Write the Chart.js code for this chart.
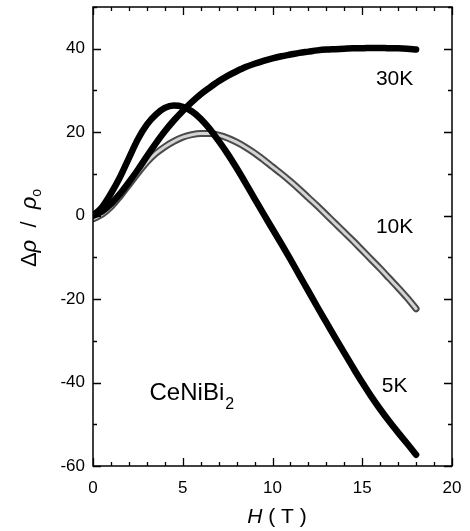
<!DOCTYPE html>
<html>
<head>
<meta charset="utf-8">
<script src="https://cdn.jsdelivr.net/npm/chart.js@4"></script>
<style>
  html, body { margin: 0; padding: 0; background: #fff; }
  #chart { display: block; }
</style>
</head>
<body>
<canvas id="chart" width="470" height="531" style="width:470px;height:531px"></canvas>
<script>
// field values (T)
var fieldH = [0, 0.5, 1, 1.5, 2, 2.5, 3, 3.5, 4, 4.5, 5, 5.5, 6, 6.5, 7, 7.5, 8, 8.5, 9,
  9.5, 10, 10.5, 11, 11.5, 12, 12.5, 13, 13.5, 14, 14.5, 15, 15.5, 16, 16.5, 17, 17.5, 18];

// magnetoresistance curves
var mr30K = [0, 1.0, 2.8, 5.2, 8.0, 11.0, 14.2, 17.3, 20.2, 22.8, 25.1, 27.2, 29.1, 30.7, 32.2,
  33.5, 34.6, 35.6, 36.4, 37.1, 37.7, 38.2, 38.6, 39, 39.3, 39.6, 39.8, 39.9, 40, 40.1, 40.1,
  40.2, 40.2, 40.1, 40.1, 40, 39.8];
var mr10K = [-0.8, 0.3, 2.1, 4.6, 7.4, 10.2, 12.8, 14.9, 16.5, 17.8, 18.8, 19.4, 19.7, 19.7,
  19.3, 18.6, 17.6, 16.4, 15.0, 13.4, 11.7, 10.0, 8.2, 6.3, 4.3, 2.3, 0.2, -1.9, -4.0, -6.1,
  -8.3, -10.5, -12.7, -15.0, -17.3, -19.7, -22.3];
var mr5K = [0, 2.0, 5.3, 9.2, 13.8, 18.3, 21.8, 24.2, 25.8, 26.4, 26.1, 25.0, 23.2, 20.8, 17.9,
  14.8, 11.4, 7.8, 4.1, 0.4, -3.2, -6.8, -10.5, -14.3, -18.1, -21.9, -25.6, -29.3, -32.9,
  -36.5, -40.0, -43.3, -46.4, -49.3, -52.0, -54.6, -57.3];

var xTicks = [0, 5, 10, 15, 20];
var yTicks = [-60, -40, -20, 0, 20, 40];

var FONT = "'Liberation Sans', Arial, sans-serif";

function pts(ys) {
  return fieldH.map(function (h, i) { return { x: h, y: ys[i] }; });
}

// inward ticks on all four sides + full frame
var frameTicks = {
  id: "frameTicks",
  afterDraw: function (chart) {
    var ctx = chart.ctx, a = chart.chartArea;
    var xs = chart.scales.x, ys = chart.scales.y;
    ctx.save();
    ctx.strokeStyle = "#000";
    ctx.lineWidth = 1.5;
    ctx.strokeRect(a.left, a.top, a.right - a.left, a.bottom - a.top);
    ctx.lineWidth = 1.3;
    for (var h = 0; h <= 20; h++) {
      var px = Math.round(xs.getPixelForValue(h)) + 0.5;
      var len = h % 5 === 0 ? 8 : 4;
      ctx.beginPath();
      ctx.moveTo(px, a.bottom); ctx.lineTo(px, a.bottom - len);
      ctx.moveTo(px, a.top); ctx.lineTo(px, a.top + len);
      ctx.stroke();
    }
    for (var v = -60; v <= 50; v += 10) {
      var py = Math.round(ys.getPixelForValue(v)) + 0.5;
      var l2 = v % 20 === 0 ? 8 : 4;
      ctx.beginPath();
      ctx.moveTo(a.left, py); ctx.lineTo(a.left + l2, py);
      ctx.moveTo(a.right, py); ctx.lineTo(a.right - l2, py);
      ctx.stroke();
    }
    ctx.restore();
  }
};

// curve labels, compound name and axis titles
var texts = {
  id: "texts",
  afterDraw: function (chart) {
    var ctx = chart.ctx, xs = chart.scales.x, ys = chart.scales.y;
    ctx.save();
    ctx.fillStyle = "#000";
    ctx.textBaseline = "alphabetic";
    ctx.textAlign = "center";
    ctx.font = "21px " + FONT;
    ctx.fillText("30K", xs.getPixelForValue(16.8), ys.getPixelForValue(31.3));
    ctx.fillText("10K", xs.getPixelForValue(16.8), ys.getPixelForValue(-4.1));
    ctx.fillText("5K", xs.getPixelForValue(16.8), ys.getPixelForValue(-42.3));

    // CeNiBi2
    ctx.textAlign = "left";
    ctx.font = "24px " + FONT;
    var cx = xs.getPixelForValue(3.15), cy = ys.getPixelForValue(-44.3);
    ctx.fillText("CeNiBi", cx, cy);
    var w = ctx.measureText("CeNiBi").width;
    ctx.font = "16px " + FONT;
    ctx.fillText("2", cx + w + 1, cy + 9);

    // x title: H ( T )
    var parts = [["italic 21px " + FONT, "H"], ["21px " + FONT, " ( T )"]];
    var total = 0;
    parts.forEach(function (p) { ctx.font = p[0]; total += ctx.measureText(p[1]).width; });
    var x0 = 277 - total / 2;
    parts.forEach(function (p) {
      ctx.font = p[0];
      ctx.fillText(p[1], x0, 523);
      x0 += ctx.measureText(p[1]).width;
    });

    // y title: Δρ / ρo
    ctx.translate(36, 228);
    ctx.rotate(-Math.PI / 2);
    var yp = [["22px " + FONT, "\u0394", 0], ["italic 22px " + FONT, "\u03C1", 0],
      ["22px " + FONT, "  /  ", 0], ["italic 22px " + FONT, "\u03C1", 0], ["14px " + FONT, "o", 5]];
    var tw = 0;
    yp.forEach(function (p) { ctx.font = p[0]; tw += ctx.measureText(p[1]).width; });
    var s = -tw / 2;
    yp.forEach(function (p) {
      ctx.font = p[0];
      ctx.fillText(p[1], s, p[2]);
      s += ctx.measureText(p[1]).width;
    });
    ctx.restore();
  }
};

var ctx = document.getElementById("chart").getContext("2d");
var myChart = new Chart(ctx, {
  type: "line",
  data: {
    datasets: [
      { label: "30K", data: pts(mr30K), borderColor: "#000", borderWidth: 6.5 },
      { label: "5K", data: pts(mr5K), borderColor: "#000", borderWidth: 6.5 },
      { label: "10K", data: pts(mr10K), borderColor: "#d4d4d4", borderWidth: 3 },
      { label: "10K edge", data: pts(mr10K), borderColor: "#4a4a4a", borderWidth: 7 }
    ]
  },
  plugins: [frameTicks, texts],
  options: {
    responsive: false,
    devicePixelRatio: 1,
    animation: false,
    parsing: false,
    elements: {
      point: { radius: 0 },
      line: { cubicInterpolationMode: "monotone", fill: false, borderCapStyle: "round", borderJoinStyle: "round" }
    },
    layout: { padding: { left: 0, right: 18, top: 7, bottom: 0 } },
    plugins: {
      legend: { display: false },
      tooltip: { enabled: false }
    },
    scales: {
      x: {
        type: "linear",
        min: 0,
        max: 20,
        afterBuildTicks: function (scale) {
          scale.ticks = xTicks.map(function (v) { return { value: v }; });
        },
        afterFit: function (scale) {
          scale.height = 65;
          scale.paddingLeft = 0;
          scale.paddingRight = 0;
        },
        grid: { display: false, drawTicks: false },
        border: { display: false },
        ticks: { color: "#000", font: { size: 17, family: FONT }, padding: 12, maxRotation: 0 }
      },
      y: {
        type: "linear",
        min: -60,
        max: 50,
        afterBuildTicks: function (scale) {
          scale.ticks = yTicks.map(function (v) { return { value: v }; });
        },
        afterFit: function (scale) {
          scale.width = 93;
          scale.paddingTop = 0;
          scale.paddingBottom = 0;
        },
        grid: { display: false, drawTicks: false },
        border: { display: false },
        ticks: { color: "#000", font: { size: 17, family: FONT }, padding: 8 }
      }
    }
  }
});
</script>
</body>
</html>
